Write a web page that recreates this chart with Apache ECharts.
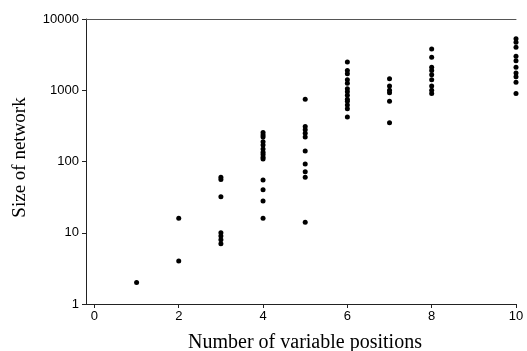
<!DOCTYPE html>
<html>
<head>
<meta charset="utf-8">
<script src="https://cdn.jsdelivr.net/npm/echarts@6/dist/echarts.min.js"></script>
<style>html,body{margin:0;padding:0;background:#fff}#c{width:527px;height:351px}</style>
</head>
<body>
<div id="c"></div>
<script>
const xTicks = [0, 2, 4, 6, 8, 10];
const yTicks = [1, 10, 100, 1000, 10000];
const size1 = [2];
const size2 = [16, 4];
const size3 = [60, 56, 32, 10, 9, 8, 7];
const size4 = [255, 235, 220, 190, 170, 150, 135, 125, 115, 108, 55, 40, 28, 16];
const size5 = [750, 310, 280, 250, 220, 140, 92, 72, 60, 14];
const size6 = [2500, 1900, 1700, 1400, 1250, 1050, 950, 850, 750, 700, 620, 550, 420];
const size7 = [1450, 1150, 1000, 920, 700, 350];
const size8 = [3800, 2900, 2100, 1900, 1650, 1400, 1150, 1000, 900];
const size10 = [5300, 4700, 4000, 3000, 2600, 2100, 1750, 1550, 1300, 900];

const groups = [[1, size1], [2, size2], [3, size3], [4, size4], [5, size5], [6, size6], [7, size7], [8, size8], [10, size10]];
const points = [];
groups.forEach(([x, arr]) => arr.forEach(v => points.push([x, v])));

const chart = echarts.init(document.getElementById('c'), null, {renderer: 'canvas'});
const axisColor = '#222';
chart.setOption({
  animation: false,
  backgroundColor: '#fff',
  grid: {left: 86, top: 19, width: 430, height: 285, containLabel: false, outerBoundsMode: 'none'},
  xAxis: [{
    type: 'value', min: -0.2, max: 10, position: 'bottom',
    name: 'Number of variable positions', nameLocation: 'middle', nameGap: 29,
    nameTextStyle: {fontFamily: 'Liberation Serif', fontSize: 20, color: '#000', padding: [0, 0, 0, 8]},
    axisLine: {show: true, onZero: false, lineStyle: {color: axisColor, width: 1}},
    axisTick: {show: true, length: 4, inside: false, customValues: xTicks, lineStyle: {color: axisColor}},
    axisLabel: {customValues: xTicks, margin: 6, fontFamily: 'Liberation Sans', fontSize: 13, color: '#000',
      showMinLabel: true, showMaxLabel: true},
    splitLine: {show: false}
  }, {
    type: 'value', min: -0.2, max: 10, position: 'top',
    axisLine: {show: true, onZero: false, lineStyle: {color: '#555', width: 1}},
    axisTick: {show: false}, axisLabel: {show: false}, splitLine: {show: false}
  }],
  yAxis: {
    type: 'log', logBase: 10, min: 1, max: 10000,
    name: 'Size of network', nameLocation: 'middle', nameGap: 56, nameRotate: 90,
    nameTextStyle: {fontFamily: 'Liberation Serif', fontSize: 19, color: '#000', padding: [0, 0, 0, 8]},
    axisLine: {show: true, onZero: false, lineStyle: {color: axisColor, width: 1}},
    axisTick: {show: true, length: 4, lineStyle: {color: axisColor}},
    minorTick: {show: false},
    axisLabel: {margin: 7, fontFamily: 'Liberation Sans', fontSize: 13, color: '#000',
      formatter: v => String(Math.round(v))},
    splitLine: {show: false}
  },
  series: [{
    type: 'scatter', data: points, symbol: 'circle', symbolSize: 5,
    itemStyle: {color: '#000', opacity: 1}
  }]
});
</script>
</body>
</html>
